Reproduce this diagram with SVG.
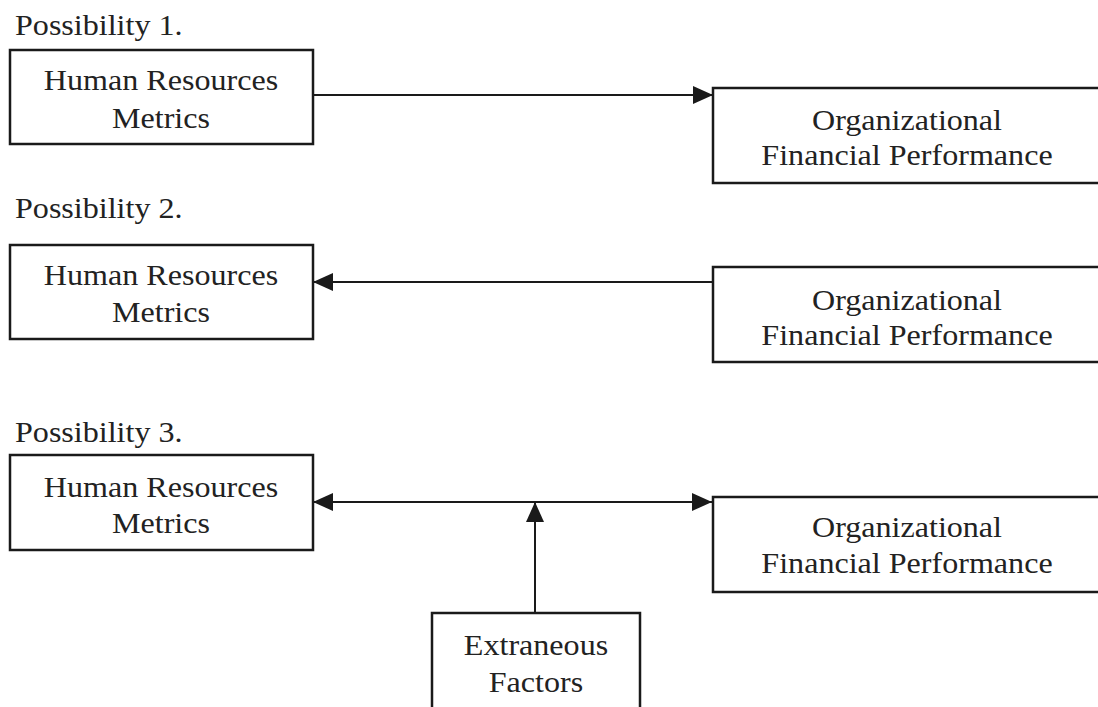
<svg xmlns="http://www.w3.org/2000/svg" width="1098" height="707" viewBox="0 0 1098 707">
<style>
.box{fill:#fff;stroke:#1a1a1a;stroke-width:2.5}
.t{font-family:"Liberation Serif","Times New Roman",serif;font-size:30px;fill:#222}
.c{text-anchor:middle}
.ln{stroke:#1a1a1a;stroke-width:2;fill:none}
</style>
<defs>
<marker id="ah" markerUnits="userSpaceOnUse" markerWidth="20" markerHeight="18" refX="20" refY="9" orient="auto-start-reverse">
<path d="M0,0 L20,9 L0,18 Z" fill="#1a1a1a"/>
</marker>
</defs>
<rect width="1098" height="707" fill="#fff"/>
<g id="labels">
<text class="t" transform="translate(15,35) scale(1.07,1)">Possibility 1.</text>
<text class="t" transform="translate(15,218) scale(1.07,1)">Possibility 2.</text>
<text class="t" transform="translate(15,442) scale(1.07,1)">Possibility 3.</text>
</g>
<g id="connectors">
<line class="ln" x1="313" y1="95" x2="713" y2="95" marker-end="url(#ah)"/>
<line class="ln" x1="713" y1="282" x2="313" y2="282" marker-end="url(#ah)"/>
<line class="ln" x1="313" y1="502" x2="712" y2="502" marker-start="url(#ah)" marker-end="url(#ah)"/>
<line class="ln" x1="535" y1="613" x2="535" y2="502" marker-end="url(#ah)"/>
</g>
<g id="hr1">
<rect class="box" x="10" y="50" width="303" height="94"/>
<text class="t c" transform="translate(161,90) scale(1.07,1)">Human Resources</text>
<text class="t c" transform="translate(161,128) scale(1.07,1)">Metrics</text>
</g>
<g id="ofp1">
<rect class="box" x="713" y="88" width="400" height="95"/>
<text class="t c" transform="translate(907,130) scale(1.07,1)">Organizational</text>
<text class="t c" transform="translate(907,165) scale(1.07,1)">Financial Performance</text>
</g>
<g id="hr2">
<rect class="box" x="10" y="245" width="303" height="94"/>
<text class="t c" transform="translate(161,285) scale(1.07,1)">Human Resources</text>
<text class="t c" transform="translate(161,322) scale(1.07,1)">Metrics</text>
</g>
<g id="ofp2">
<rect class="box" x="713" y="267" width="400" height="95"/>
<text class="t c" transform="translate(907,310) scale(1.07,1)">Organizational</text>
<text class="t c" transform="translate(907,345) scale(1.07,1)">Financial Performance</text>
</g>
<g id="hr3">
<rect class="box" x="10" y="455" width="303" height="95"/>
<text class="t c" transform="translate(161,497) scale(1.07,1)">Human Resources</text>
<text class="t c" transform="translate(161,533) scale(1.07,1)">Metrics</text>
</g>
<g id="ofp3">
<rect class="box" x="713" y="497" width="400" height="95"/>
<text class="t c" transform="translate(907,537) scale(1.07,1)">Organizational</text>
<text class="t c" transform="translate(907,573) scale(1.07,1)">Financial Performance</text>
</g>
<g id="ext">
<rect class="box" x="432" y="613" width="208" height="110"/>
<text class="t c" transform="translate(536,655) scale(1.07,1)">Extraneous</text>
<text class="t c" transform="translate(536,692) scale(1.07,1)">Factors</text>
</g>
</svg>
